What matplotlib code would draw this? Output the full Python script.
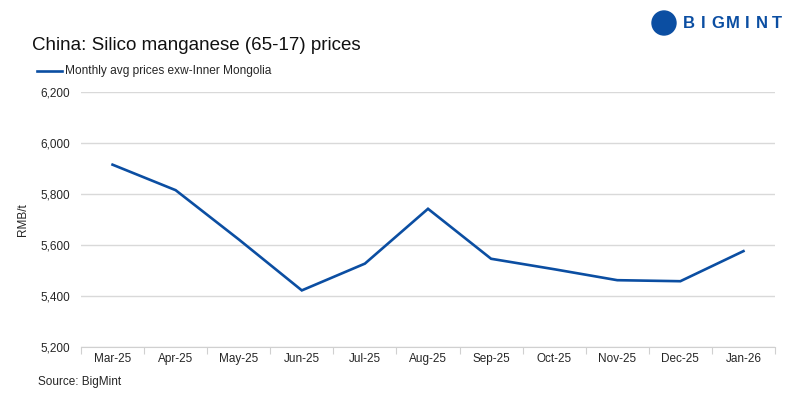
import matplotlib.pyplot as plt
from matplotlib.patches import Ellipse

months = ['Mar-25', 'Apr-25', 'May-25', 'Jun-25', 'Jul-25', 'Aug-25',
          'Sep-25', 'Oct-25', 'Nov-25', 'Dec-25', 'Jan-26']
prices = [5915, 5815, 5622, 5422, 5527, 5742, 5546, 5505, 5462, 5458, 5576]
y_ticks = [5200, 5400, 5600, 5800, 6000, 6200]

BLUE = '#0B4EA2'
plt.rcParams['font.family'] = ['Liberation Sans', 'DejaVu Sans']

W, H = 800, 399
fig = plt.figure(figsize=(W / 100, H / 100), dpi=100)
ax = fig.add_axes([81 / W, 1 - 347 / H, 694 / W, 255 / H])

x = list(range(len(months)))
ax.plot(x, prices, color=BLUE, linewidth=1.9, solid_joinstyle='miter')

ax.set_xlim(-0.5, len(months) - 0.5)
ax.set_ylim(5200, 6200)
ax.set_yticks(y_ticks)
ax.set_yticklabels([f'{v:,}' for v in y_ticks], fontsize=8.5, color='#262626')
ax.yaxis.grid(True, color='#D9D9D9', linewidth=1)
ax.set_axisbelow(True)
ax.tick_params(axis='y', length=0, pad=8)

# category labels sit between boundary ticks
ax.set_xticks([i + 0.5 for i in range(-1, len(months))])
ax.set_xticklabels([])
ax.set_xticks(x, minor=True)
ax.set_xticklabels(months, minor=True, fontsize=8.5, color='#262626')
ax.tick_params(axis='x', which='major', length=5, color='#D0D0D0', direction='out')
ax.tick_params(axis='x', which='minor', length=0, pad=4)

for s in ['top', 'right', 'left']:
    ax.spines[s].set_visible(False)
ax.spines['bottom'].set_color('#D0D0D0')

ax.set_ylabel('RMB/t', fontsize=8.5, color='#262626', labelpad=8)

fig.text(32 / W, 1 - 46 / H, 'China: Silico manganese (65-17) prices',
         fontsize=13.5, color='#111111', va='center')
fig.lines.append(plt.Line2D([37 / W, 62 / W], [1 - 71 / H, 1 - 71 / H],
                            transform=fig.transFigure, color=BLUE, linewidth=1.9))
fig.text(65 / W, 1 - 71 / H, 'Monthly avg prices exw-Inner Mongolia',
         fontsize=8.6, color='#262626', va='center')
fig.text(38 / W, 1 - 382 / H, 'Source: BigMint', fontsize=8.5,
         color='#262626', va='center')

# logo
fig.patches.append(Ellipse((664 / W, 1 - 23 / H), 24 / W, 24 / H,
                           transform=fig.transFigure, color=BLUE))
for i, ch in enumerate('BIGMINT'):
    fig.text((689 + i * 14.6) / W, 1 - 23 / H, ch, fontsize=12, fontweight='bold',
             color=BLUE, va='center', ha='center')

fig.savefig('out.png', dpi=100)
